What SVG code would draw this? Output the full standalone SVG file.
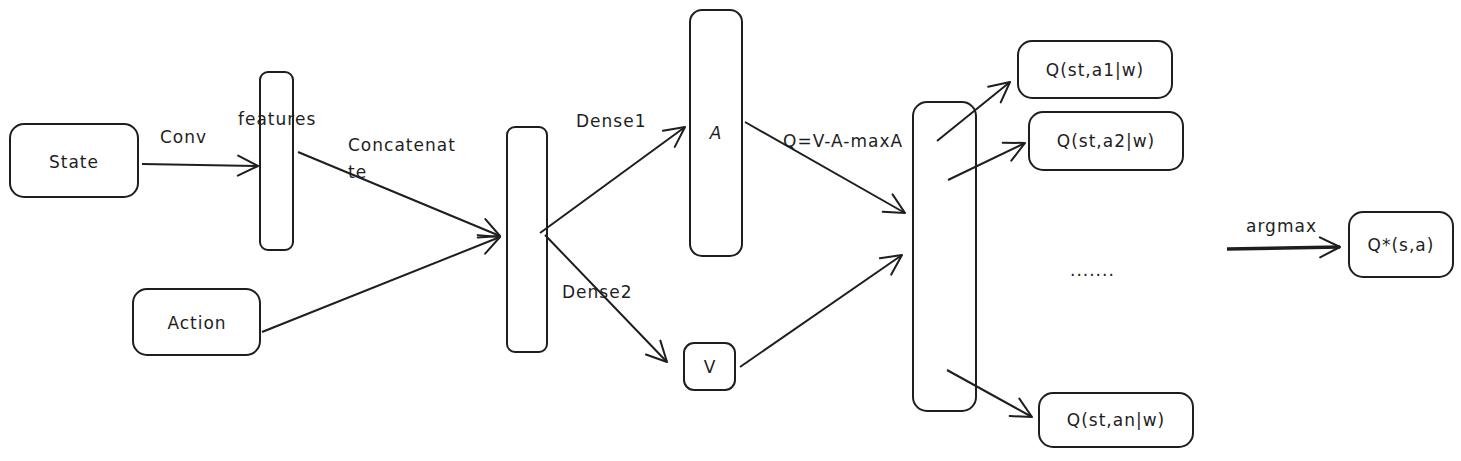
<svg xmlns="http://www.w3.org/2000/svg" width="1461" height="461" viewBox="0 0 1461 461">
<style>
.box{fill:none;stroke:#1e1e1e;stroke-width:2}
.t{font-family:"DejaVu Sans","Liberation Sans",sans-serif;font-size:17px;letter-spacing:1px;fill:#1e1e1e}
.c{text-anchor:middle}
.ln{stroke:#1e1e1e;stroke-width:2;fill:none;marker-end:url(#ah)}
</style>
<defs>
<marker id="ah" markerUnits="userSpaceOnUse" viewBox="-22 -12 24 24" refX="0" refY="0" markerWidth="24" markerHeight="24" orient="auto">
<path d="M-20,-10 L0,0 L-20,10" fill="none" stroke="#1e1e1e" stroke-width="2" stroke-linecap="round" stroke-linejoin="round"/>
</marker>
</defs>
<rect width="1461" height="461" fill="#fff"/>
<g id="connectors">
<line class="ln" x1="142" y1="164" x2="258" y2="166"/>
<line class="ln" x1="298" y1="152" x2="500" y2="236"/>
<line class="ln" x1="262" y1="332" x2="500" y2="237"/>
<line class="ln" x1="540" y1="233" x2="685" y2="127"/>
<line class="ln" x1="545" y1="235" x2="667" y2="362"/>
<line class="ln" x1="745" y1="122" x2="905" y2="213"/>
<line class="ln" x1="740" y1="367" x2="902" y2="255"/>
<line class="ln" x1="937" y1="141" x2="1010" y2="82"/>
<line class="ln" x1="948" y1="180" x2="1025" y2="143"/>
<line class="ln" x1="947" y1="370" x2="1032" y2="417"/>
<line class="ln" x1="1227" y1="249" x2="1340" y2="247" style="stroke-width:3.5"/>
<text class="t" x="160" y="143">Conv</text>
<text class="t" x="348" y="151">Concatenat</text>
<text class="t" x="348" y="178">te</text>
<text class="t" x="576" y="127">Dense1</text>
<text class="t" x="562" y="298">Dense2</text>
<text class="t" x="783" y="147">Q=V-A-maxA</text>
<text class="t" x="1246" y="232">argmax</text>
</g>
<g id="state"><rect class="box" x="10" y="124" width="128" height="73" rx="14"/><text class="t c" x="74" y="168">State</text></g>
<g id="features"><rect class="box" x="260" y="72" width="33" height="178" rx="8"/><text class="t" x="238" y="125">features</text></g>
<g id="action"><rect class="box" x="133" y="289" width="127" height="66" rx="14"/><text class="t c" x="197" y="329">Action</text></g>
<g id="concat"><rect class="box" x="507" y="127" width="40" height="225" rx="8"/></g>
<g id="a"><rect class="box" x="690" y="10" width="52" height="246" rx="12"/><text class="t c" x="716" y="139" font-style="italic">A</text></g>
<g id="v"><rect class="box" x="684" y="343" width="51" height="47" rx="10"/><text class="t c" x="710" y="373">V</text></g>
<g id="merge"><rect class="box" x="913" y="102" width="63" height="309" rx="14"/></g>
<g id="q1"><rect class="box" x="1018" y="41" width="154" height="57" rx="14"/><text class="t c" x="1095" y="76">Q(st,a1|w)</text></g>
<g id="q2"><rect class="box" x="1029" y="112" width="154" height="58" rx="14"/><text class="t c" x="1106" y="147">Q(st,a2|w)</text></g>
<g id="dots"><text class="t" x="1070" y="276">.......</text></g>
<g id="qn"><rect class="box" x="1039" y="393" width="154" height="54" rx="14"/><text class="t c" x="1116" y="426">Q(st,an|w)</text></g>
<g id="qstar"><rect class="box" x="1349" y="212" width="104" height="65" rx="14"/><text class="t c" x="1401" y="251">Q*(s,a)</text></g>
</svg>
